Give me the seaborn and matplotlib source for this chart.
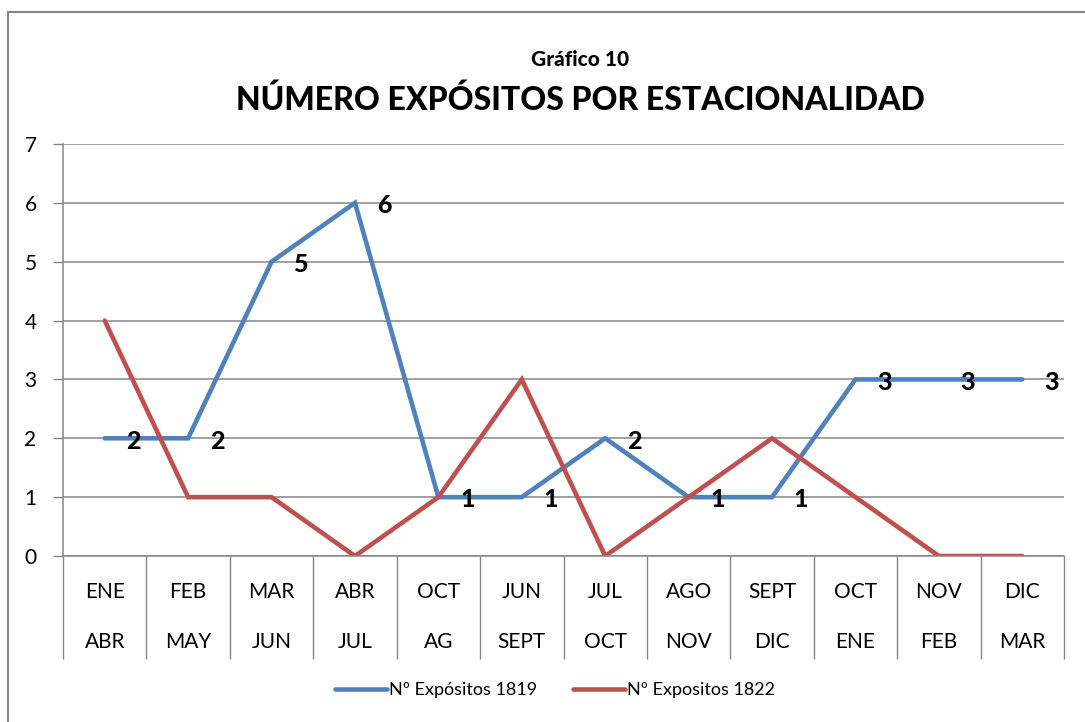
import matplotlib
matplotlib.use("Agg")
import matplotlib.pyplot as plt
import matplotlib.patches as patches
import seaborn as sns
import pandas as pd

# data
top_row = ["ENE", "FEB", "MAR", "ABR", "OCT", "JUN", "JUL", "AGO", "SEPT", "OCT", "NOV", "DIC"]
bottom_row = ["ABR", "MAY", "JUN", "JUL", "AG", "SEPT", "OCT", "NOV", "DIC", "ENE", "FEB", "MAR"]
expositos_1819 = [2, 2, 5, 6, 1, 1, 2, 1, 1, 3, 3, 3]
expositos_1822 = [4, 1, 1, 0, 1, 3, 0, 1, 2, 1, 0, 0]
series_names = ["Nº Expósitos 1819", "Nº Expositos 1822"]
colors = ["#4F81BD", "#C0504D"]

pos = list(range(len(top_row)))
df = pd.concat([
    pd.DataFrame({"pos": pos, "value": expositos_1819, "serie": series_names[0]}),
    pd.DataFrame({"pos": pos, "value": expositos_1822, "serie": series_names[1]}),
])

sns.set_style("white")
plt.rcParams["font.family"] = ["Lato", "DejaVu Sans"]
plt.rcParams["text.color"] = "black"
plt.rcParams["xtick.color"] = "black"
plt.rcParams["ytick.color"] = "black"

grey = "#868686"
fig = plt.figure(figsize=(10.85, 7.22), dpi=100)
ax = fig.add_axes([63 / 1085, 1 - 556 / 722, (1064 - 63) / 1085, (556 - 144) / 722])

sns.lineplot(data=df, x="pos", y="value", hue="serie", palette=colors,
             linewidth=3.3, ax=ax, legend=True)
for line in ax.get_lines():
    line.set_solid_capstyle("round")
    line.set_solid_joinstyle("miter")

# data labels on the 1819 series
for x, v in zip(pos, expositos_1819):
    ax.annotate(str(v), (x, v), xytext=(21, -2), textcoords="offset points",
                ha="center", va="center", fontsize=18, fontweight="black", color="black")

ax.set_xlim(-0.5, len(pos) - 0.5)
ax.set_ylim(0, 7)
ax.set_yticks(range(0, 8))
ax.tick_params(axis="y", left=True, length=7, width=1, color=grey, labelcolor="black",
               labelsize=15, pad=12)
ax.yaxis.grid(True, color=grey, linewidth=1.1)
ax.set_axisbelow(True)

# category table: long divider ticks plus two label rows
ax.set_xticks([])
ax.set_xticks([p - 0.5 for p in pos] + [pos[-1] + 0.5], minor=True)
ax.tick_params(axis="x", which="minor", bottom=True, length=74, width=1, color=grey, direction="out")
for x, t, b in zip(pos, top_row, bottom_row):
    ax.text(x, -0.087, t, transform=ax.get_xaxis_transform(), ha="center", va="center", fontsize=15)
    ax.text(x, -0.209, b, transform=ax.get_xaxis_transform(), ha="center", va="center", fontsize=15)

for s in ["top", "right"]:
    ax.spines[s].set_visible(False)
for s in ["left", "bottom"]:
    ax.spines[s].set_color(grey)
    ax.spines[s].set_linewidth(1.1)
ax.set_xlabel("")
ax.set_ylabel("")

ax.legend(loc="center", bbox_to_anchor=(555 / 1085, 1 - 690 / 722), bbox_transform=fig.transFigure,
          ncol=2, frameon=False, fontsize=13, handlelength=2.9, handletextpad=0.1, columnspacing=2.0)

fig.text(580 / 1085, 1 - 60 / 722, "Gráfico 10", ha="center", va="center", fontsize=15, fontweight="black")
fig.text(580 / 1085, 1 - 100 / 722, "NÚMERO EXPÓSITOS POR ESTACIONALIDAD", ha="center", va="center",
         fontsize=23, fontweight="black")

# chart area border
fig.patches.append(patches.Rectangle((8 / 1085, -0.1), 1.2, 1 - 12 / 722 + 0.1, transform=fig.transFigure,
                                     fill=False, edgecolor=grey, linewidth=1.5))

fig.savefig("out.png", dpi=100)
